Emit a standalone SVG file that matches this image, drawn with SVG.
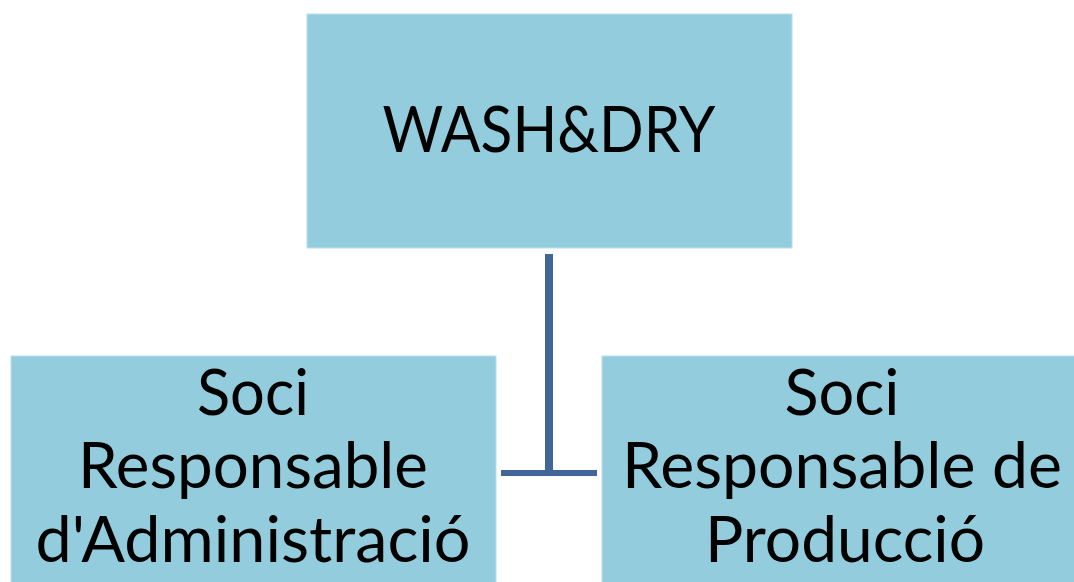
<svg xmlns="http://www.w3.org/2000/svg" width="1074" height="582" viewBox="0 0 1074 582">
<style>
.box{fill:#93CDDD;stroke:#B9E0EA;stroke-width:1}
.t{font-family:Lato,"Open Sans","Liberation Sans",sans-serif;font-size:63px;fill:#000;text-anchor:middle}
.c{stroke:#41679A;fill:none;stroke-linecap:butt}
</style>
<rect width="1074" height="582" fill="#fff"/>
<g id="connectors">
<line class="c" x1="549" y1="254" x2="549" y2="473" stroke-width="8"/>
<line class="c" x1="501" y1="473" x2="597" y2="473" stroke-width="6"/>
</g>
<g id="top">
<rect class="box" x="307" y="14" width="485" height="234"/>
<text class="t" x="549" y="152" textLength="333" lengthAdjust="spacingAndGlyphs">WASH&amp;DRY</text>
</g>
<g id="admin">
<rect class="box" x="11" y="356" width="485" height="240"/>
<text class="t" x="253" y="415" textLength="112" lengthAdjust="spacingAndGlyphs">Soci</text>
<text class="t" x="253" y="488" textLength="350" lengthAdjust="spacingAndGlyphs">Responsable</text>
<text class="t" x="253" y="562" textLength="435" lengthAdjust="spacingAndGlyphs">d'Administració</text>
</g>
<g id="produccio">
<rect class="box" x="602" y="356" width="485" height="240"/>
<text class="t" x="842" y="415" textLength="115" lengthAdjust="spacingAndGlyphs">Soci</text>
<text class="t" x="842" y="488" textLength="440" lengthAdjust="spacingAndGlyphs">Responsable de</text>
<text class="t" x="845" y="562" textLength="280" lengthAdjust="spacingAndGlyphs">Producció</text>
</g>
</svg>
